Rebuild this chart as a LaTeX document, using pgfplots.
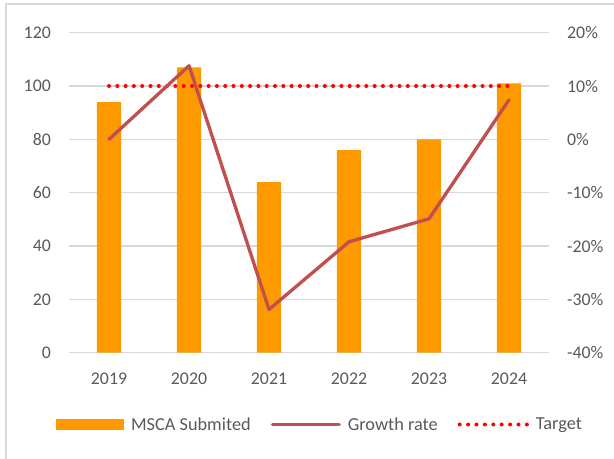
\documentclass[border=0pt]{standalone}
\usepackage{pgfplots}
\pgfplotsset{compat=1.18}
\usepackage{fontspec}
\setmainfont{Carlito}
\definecolor{barorange}{HTML}{FF9900}
\definecolor{linered}{HTML}{C0504D}
\definecolor{gridgray}{HTML}{D9D9D9}
\definecolor{txtgray}{HTML}{595959}
\newcommand{\fs}{\fontsize{17.8bp}{21bp}\selectfont}
\newcommand{\fl}{\fontsize{18.3bp}{22bp}\selectfont}
\begin{document}
\begin{tikzpicture}[x=1bp,y=1bp]
\useasboundingbox (0,0) rectangle (614,459);
\draw[color=gridgray, line width=1.3bp] (6,0) -- (6,455) -- (614,455);
\begin{axis}[
  at={(69bp,106.3bp)}, anchor=south west,
  width=480bp, height=320bp, scale only axis,
  xmin=-0.5, xmax=5.5, ymin=0, ymax=120,
  ytick={0,20,40,60,80,100,120},
  yticklabels={0,20,40,60,80,100,120},
  xtick={0,1,2,3,4,5},
  xticklabels={2019,2020,2021,2022,2023,2024},
  ymajorgrids, grid style={draw=gridgray, line width=1.3bp},
  axis line style={draw=none}, tick style={draw=none},
  ticklabel style={font=\fs, text=txtgray, inner sep=0pt},
  yticklabel style={anchor=east, xshift=-18bp},
  xticklabel style={anchor=north, yshift=-20bp},
  legend style={at={(0.5208,-0.2244)}, anchor=center, draw=none, fill=none,
    legend columns=3, font=\fl, text=txtgray,
    nodes={inner sep=0pt},
    /tikz/every odd column/.append style={column sep=7bp},
    /tikz/every even column/.append style={column sep=20bp}},
  clip=false,
]
\addplot[ybar, bar width=24.3bp, fill=barorange, draw=none,
  legend image code/.code={\fill[barorange] (0,-5.3bp) rectangle (68bp,5.3bp);}]
  coordinates {(0,94) (1,107) (2,64) (3,76) (4,80) (5,101)};
\addlegendentry{MSCA Submited}
\addlegendimage{legend image code/.code={\draw[linered, line width=3.3bp, line cap=round] (1.6bp,0) -- (68.4bp,0);}}
\addlegendentry{Growth rate}
\addplot[red, line width=4bp, line cap=round, dash pattern=on 0pt off 8.3bp,
  legend image code/.code={\draw[red, line width=4bp, line cap=round, dash pattern=on 0pt off 8.4bp] (2bp,0) -- (69.2bp,0);}]
  coordinates {(0,100) (5,100)};
\addlegendentry{Target}
\end{axis}
\begin{axis}[
  at={(69bp,106.3bp)}, anchor=south west,
  width=480bp, height=320bp, scale only axis,
  xmin=-0.5, xmax=5.5, ymin=-40, ymax=20,
  axis y line*=right, hide x axis,
  ytick={-40,-30,-20,-10,0,10,20},
  yticklabels={-40\%,-30\%,-20\%,-10\%,0\%,10\%,20\%},
  axis line style={draw=none}, tick style={draw=none},
  ticklabel style={font=\fs, text=txtgray, inner sep=0pt},
  yticklabel style={anchor=west, xshift=18bp},
  clip=false,
]
\addplot[linered, line width=3.3bp, line cap=round, line join=round]
  coordinates {(0,0) (1,13.8) (2,-31.9) (3,-19.2) (4,-14.9) (5,7.4)};
\end{axis}
\end{tikzpicture}
\end{document}
